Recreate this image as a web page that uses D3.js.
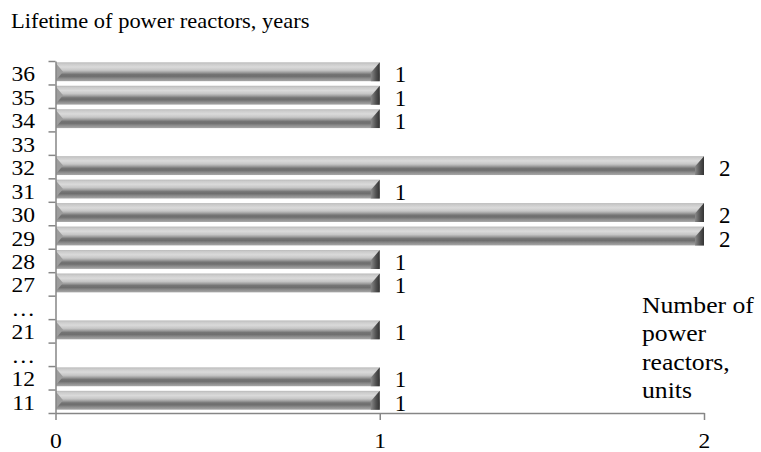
<!DOCTYPE html>
<html>
<head>
<meta charset="utf-8">
<script src="https://cdn.jsdelivr.net/npm/d3@7"></script>
<style>
  html, body { margin: 0; padding: 0; background: #fff; }
  svg { display: block; }
  svg text { font-family: 'Liberation Serif', 'DejaVu Serif', serif !important; }
</style>
</head>
<body>
<svg id="chart" width="761" height="452"></svg>
<script>
// ---- data ----
const categories = ["11", "12", "…", "21", "…", "27", "28", "29", "30", "31", "32", "33", "34", "35", "36"];
const values =     [1,    1,    null, 1,    null, 1,    1,    2,    2,    1,    2,    null, 1,    1,    1];
const xTicks = [0, 1, 2];
const chartTitle = "Lifetime of power reactors, years";
const axisTitleLines = ["Number of", "power", "reactors,", "units"];

// ---- layout ----
const FONT = "Liberation Serif";
const svg = d3.select("#chart");
const mLeft = 55.5, mRight = 704, mTop = 61, mBottom = 413;
const n = categories.length;

const x = d3.scaleLinear().domain([0, 2]).range([mLeft, mRight]);
const y = d3.scaleBand().domain(d3.range(n)).range([mBottom, mTop]).paddingInner(0).paddingOuter(0);
const yB = d3.scaleLinear().domain([0, n]).range([mBottom, mTop]);

// gradients
const defs = svg.append("defs");
const g1 = defs.append("linearGradient").attr("id", "barGrad").attr("x1", 0).attr("y1", 0).attr("x2", 0).attr("y2", 1);
[[0, "#b8b8b8"], [0.08, "#cacaca"], [0.25, "#dadada"], [0.42, "#c6c6c6"], [0.52, "#a4a4a4"], [0.64, "#747474"], [0.74, "#6e6e6e"], [0.87, "#8e8e8e"], [1, "#a8a8a8"]]
  .forEach(([o, c]) => g1.append("stop").attr("offset", o).attr("stop-color", c));
const g2 = defs.append("linearGradient").attr("id", "capGrad").attr("x1", 0).attr("y1", 0).attr("x2", 1).attr("y2", 0);
[[0, "#8a8a8a"], [0.6, "#505050"], [1, "#333333"]]
  .forEach(([o, c]) => g2.append("stop").attr("offset", o).attr("stop-color", c));

// ---- title ----
svg.append("text")
  .attr("transform", "translate(11,28) scale(1.02,1)")
  .attr("font-family", FONT)
  .attr("font-size", 22)
  .attr("fill", "#000")
  .text(chartTitle);

// ---- bars ----
const data = categories.map((c, i) => ({ i, c, v: values[i] })).filter(d => d.v != null);
const barOff = 1.3, barH = y.bandwidth() - 4.6;

const bars = svg.append("g").selectAll("g").data(data).join("g");
bars.append("rect")
  .attr("x", x(0) + 0.5)
  .attr("y", d => y(d.i) + barOff)
  .attr("width", d => x(d.v) - x(0) - 0.5)
  .attr("height", barH)
  .attr("fill", "url(#barGrad)");
// left bevel
bars.append("path")
  .attr("d", d => {
    const x0 = x(0) + 0.5, y0 = y(d.i) + barOff;
    return `M${x0},${y0 + 1}L${x0 + 7},${y0 + barH * 0.5}L${x0},${y0 + barH - 1}Z`;
  })
  .attr("fill", "#9c9c9c");
// right bevel (dark)
bars.append("path")
  .attr("d", d => {
    const x1 = x(d.v), y0 = y(d.i) + barOff;
    return `M${x1},${y0}L${x1},${y0 + barH}L${x1 - 9},${y0 + barH}L${x1 - 9},${y0 + barH * 0.55}Z`;
  })
  .attr("fill", "url(#capGrad)");

// ---- value labels ----
svg.append("g").selectAll("text").data(data).join("text")
  .attr("transform", d => `translate(${x(d.v) + 15},${y(d.i) + y.bandwidth() / 2 + 9.5})`)
  .attr("font-family", FONT)
  .attr("font-size", 23)
  .attr("fill", "#000")
  .text(d => d.v);

// ---- y axis (ticks between categories) ----
const yAxisG = svg.append("g").attr("transform", `translate(${mLeft},0)`)
  .call(d3.axisLeft(yB).tickValues(d3.range(n + 1)).tickSize(7).tickSizeOuter(0).tickFormat(""));
yAxisG.select(".domain").attr("stroke", "#868686").attr("stroke-width", 1.5);
yAxisG.selectAll(".tick line").attr("stroke", "#868686").attr("stroke-width", 1.5);

// category labels via band axis
const yLabG = svg.append("g").attr("transform", `translate(${mLeft},0)`)
  .call(d3.axisLeft(y).tickSize(0).tickFormat(i => categories[i]));
yLabG.attr("font-family", FONT);
yLabG.select(".domain").remove();
yLabG.selectAll(".tick text")
  .attr("x", null).attr("dy", null)
  .attr("transform", "translate(-20.5,8.5) scale(1.15,1)")
  .attr("font-size", 20.5)
  .attr("font-family", FONT)
  .attr("fill", "#000")
  .attr("text-anchor", "end");

// ---- x axis ----
const xAxisG = svg.append("g").attr("transform", `translate(0,${mBottom})`)
  .call(d3.axisBottom(x).tickValues(xTicks).tickSize(7).tickSizeOuter(0).tickFormat(d3.format("d")));
xAxisG.attr("font-family", FONT);
xAxisG.select(".domain").attr("stroke", "#868686").attr("stroke-width", 1.5);
xAxisG.selectAll(".tick line").attr("stroke", "#868686").attr("stroke-width", 1.5);
xAxisG.selectAll(".tick text")
  .attr("y", null).attr("dy", null)
  .attr("transform", "translate(0,35) scale(1.15,1)")
  .attr("font-size", 20.5)
  .attr("font-family", FONT)
  .attr("fill", "#000");

// ---- axis title ----
const at = svg.append("text").attr("font-family", FONT).attr("font-size", 24).attr("fill", "#000")
  .attr("transform", "translate(642,313) scale(1.07,1)");
at.selectAll("tspan").data(axisTitleLines).join("tspan")
  .attr("x", 0).attr("dy", (d, i) => i === 0 ? 0 : 28.3)
  .text(d => d);
</script>
</body>
</html>
